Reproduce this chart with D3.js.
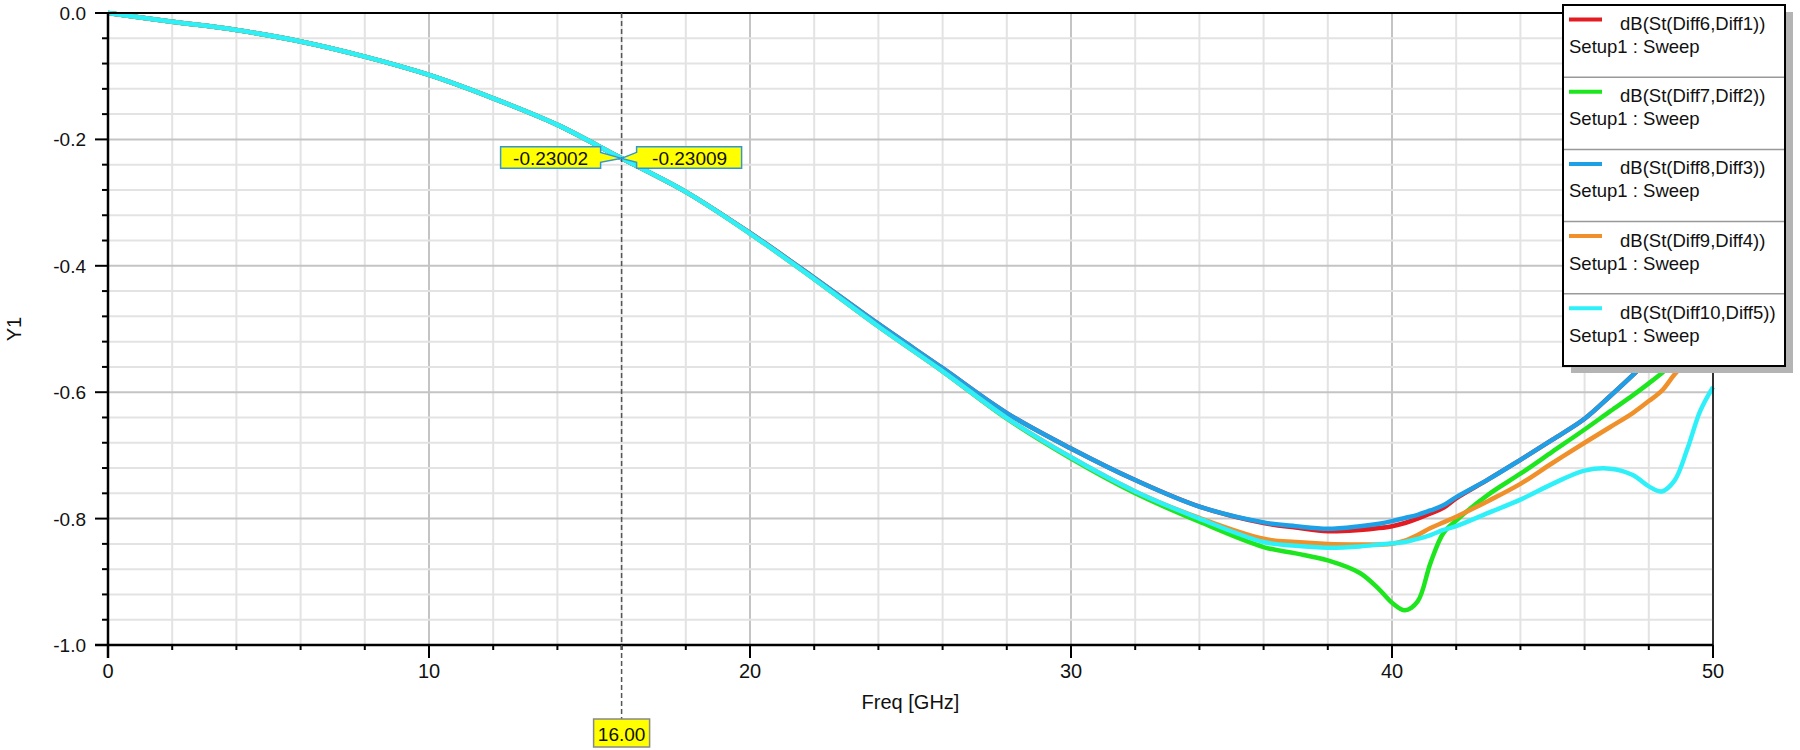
<!DOCTYPE html>
<html>
<head>
<meta charset="UTF-8">
<title>dB(St) vs Freq</title>
<script src="https://d3js.org/d3.v7.min.js"></script>
<style>
  body { margin: 0; background: #fff; }
  svg text { font-family: "Liberation Sans", Arial, sans-serif; fill: #111; }
</style>
</head>
<body>
<script>
// frequency points (GHz)
var freq = [0, 2, 4, 6, 8, 10, 12, 14, 16, 18, 20, 22, 24, 26, 28, 30, 32, 34, 36, 37, 38, 39,
            39.6, 40, 40.4, 40.8, 41.2, 41.6, 42, 43, 44, 45, 46, 46.8, 47.5, 48, 48.4, 48.8, 49.2, 49.6, 50];

// dB values per trace
var diff6 = [0, -0.0137, -0.027, -0.045, -0.069, -0.098, -0.135, -0.177, -0.2300, -0.283, -0.348,
             -0.419, -0.492, -0.562, -0.633, -0.689, -0.739, -0.781, -0.807, -0.814, -0.820, -0.818,
             -0.815, -0.812, -0.807, -0.800, -0.792, -0.783, -0.768, -0.738, -0.707, -0.675, -0.642,
             -0.606, -0.573, -0.548, -0.528, -0.508, -0.488, -0.468, -0.448];
var diff7 = [0, -0.0137, -0.027, -0.045, -0.069, -0.098, -0.135, -0.177, -0.2300, -0.283, -0.349,
             -0.421, -0.496, -0.567, -0.642, -0.705, -0.760, -0.805, -0.845, -0.855, -0.866, -0.886,
             -0.912, -0.933, -0.945, -0.931, -0.870, -0.823, -0.803, -0.762, -0.729, -0.694, -0.659,
             -0.630, -0.605, -0.586, -0.570, -0.552, -0.535, -0.517, -0.500];
var diff8 = [0, -0.0137, -0.027, -0.045, -0.069, -0.098, -0.135, -0.177, -0.2300, -0.283, -0.348,
             -0.419, -0.492, -0.562, -0.633, -0.689, -0.739, -0.781, -0.806, -0.812, -0.816, -0.812,
             -0.808, -0.804, -0.799, -0.794, -0.787, -0.779, -0.766, -0.738, -0.707, -0.675, -0.642,
             -0.606, -0.573, -0.548, -0.528, -0.508, -0.488, -0.468, -0.448];
var diff9 = [0, -0.0137, -0.027, -0.045, -0.069, -0.098, -0.135, -0.177, -0.2300, -0.283, -0.349,
             -0.421, -0.496, -0.567, -0.641, -0.703, -0.757, -0.799, -0.832, -0.837, -0.840, -0.841,
             -0.841, -0.840, -0.835, -0.826, -0.815, -0.806, -0.797, -0.772, -0.745, -0.712, -0.680,
             -0.655, -0.633, -0.614, -0.598, -0.572, -0.550, -0.530, -0.510];
var diff10 = [0, -0.0137, -0.027, -0.045, -0.069, -0.098, -0.135, -0.177, -0.2300, -0.283, -0.349,
              -0.421, -0.496, -0.567, -0.641, -0.703, -0.757, -0.800, -0.837, -0.843, -0.846, -0.844,
              -0.841, -0.839, -0.837, -0.832, -0.826, -0.818, -0.812, -0.791, -0.770, -0.745, -0.724,
              -0.721, -0.731, -0.749, -0.757, -0.740, -0.690, -0.630, -0.592];

var traceNames = ["dB(St(Diff6,Diff1))", "dB(St(Diff7,Diff2))", "dB(St(Diff8,Diff3))",
                  "dB(St(Diff9,Diff4))", "dB(St(Diff10,Diff5))"];
var traceColors = ["#e31b23", "#1ee61e", "#1ea0e6", "#f0902a", "#2ef0f8"];
var traceValues = [diff6, diff7, diff8, diff9, diff10];

var xTicks = [0, 10, 20, 30, 40, 50];
var yTicks = ["0.0", "-0.2", "-0.4", "-0.6", "-0.8", "-1.0"];

// marker at 16 GHz
var markerFreq = 16;
var markerLabels = ["-0.23002", "-0.23009"];
var markerValue = -0.2300;

var width = 1800, height = 750;
var plotL = 108, plotR = 1713, plotT = 13, plotB = 645;

var svg = d3.select("body").append("svg")
    .attr("width", width)
    .attr("height", height);

var x = d3.scaleLinear().domain([0, 50]).range([plotL, plotR]);
var y = d3.scaleLinear().domain([-1, 0]).range([plotB, plotT]);

// grid
var xMinor = d3.range(0, 50.01, 2);
var yMinor = d3.range(0, 26).map(function(i) { return -i * 0.04; });

svg.append("g").selectAll("line")
    .data(xMinor)
    .enter().append("line")
    .attr("x1", function(d) { return x(d); })
    .attr("x2", function(d) { return x(d); })
    .attr("y1", plotT).attr("y2", plotB)
    .attr("stroke", function(d) { return d % 10 === 0 ? "#c4c4c4" : "#e3e3e3"; })
    .attr("stroke-width", 2);

svg.append("g").selectAll("line")
    .data(yMinor)
    .enter().append("line")
    .attr("x1", plotL).attr("x2", plotR)
    .attr("y1", function(d) { return y(d); })
    .attr("y2", function(d) { return y(d); })
    .attr("stroke", function(d, i) { return i % 5 === 0 ? "#c4c4c4" : "#e3e3e3"; })
    .attr("stroke-width", 2);

// traces
var line = d3.line()
    .x(function(d) { return x(d[0]); })
    .y(function(d) { return y(d[1]); })
    .curve(d3.curveCatmullRom.alpha(0.5));

traceValues.forEach(function(vals, k) {
    svg.append("path")
        .datum(freq.map(function(f, i) { return [f, vals[i]]; }))
        .attr("fill", "none")
        .attr("stroke", traceColors[k])
        .attr("stroke-width", 4.5)
        .attr("stroke-linejoin", "round")
        .attr("d", line);
});

// frame
svg.append("line").attr("x1", plotL).attr("x2", plotR).attr("y1", plotT).attr("y2", plotT)
    .attr("stroke", "#000").attr("stroke-width", 2);
svg.append("line").attr("x1", plotR).attr("x2", plotR).attr("y1", plotT).attr("y2", plotB + 13)
    .attr("stroke", "#000").attr("stroke-width", 1.5);
svg.append("line").attr("x1", plotL).attr("x2", plotL).attr("y1", plotT).attr("y2", plotB + 13)
    .attr("stroke", "#000").attr("stroke-width", 2.5);
svg.append("line").attr("x1", plotL - 13).attr("x2", plotR).attr("y1", plotB).attr("y2", plotB)
    .attr("stroke", "#000").attr("stroke-width", 2.5);

// y ticks
svg.append("g").selectAll("line")
    .data(yMinor)
    .enter().append("line")
    .attr("x1", function(d, i) { return i % 5 === 0 ? plotL - 13 : plotL - 6; })
    .attr("x2", plotL)
    .attr("y1", function(d) { return y(d); })
    .attr("y2", function(d) { return y(d); })
    .attr("stroke", "#000").attr("stroke-width", 2);

svg.append("g").selectAll("text")
    .data(yTicks)
    .enter().append("text")
    .attr("x", 86)
    .attr("y", function(d) { return y(+d) + 7; })
    .attr("text-anchor", "end")
    .style("font-size", "19px")
    .text(function(d) { return d; });

// x ticks
svg.append("g").selectAll("line")
    .data(xMinor)
    .enter().append("line")
    .attr("x1", function(d) { return x(d); })
    .attr("x2", function(d) { return x(d); })
    .attr("y1", plotB)
    .attr("y2", function(d) { return d % 10 === 0 ? plotB + 13 : plotB + 5; })
    .attr("stroke", "#000").attr("stroke-width", 2);

svg.append("g").selectAll("text")
    .data(xTicks)
    .enter().append("text")
    .attr("x", function(d) { return x(d); })
    .attr("y", 678)
    .attr("text-anchor", "middle")
    .style("font-size", "20px")
    .text(function(d) { return d; });

// axis titles
svg.append("text")
    .attr("x", (plotL + plotR) / 2)
    .attr("y", 709)
    .attr("text-anchor", "middle")
    .style("font-size", "20px")
    .text("Freq [GHz]");

svg.append("text")
    .attr("transform", "translate(21," + ((plotT + plotB) / 2) + ") rotate(-90)")
    .attr("text-anchor", "middle")
    .style("font-size", "20px")
    .text("Y1");

// marker line
var mx = x(markerFreq), my = y(markerValue);
svg.append("line")
    .attr("x1", mx).attr("x2", mx)
    .attr("y1", plotT).attr("y2", 719)
    .attr("stroke", "#555")
    .attr("stroke-width", 1.5)
    .attr("stroke-dasharray", "5,3");

svg.append("rect")
    .attr("x", mx - 28).attr("y", 719)
    .attr("width", 56).attr("height", 28)
    .attr("fill", "#ffff00")
    .attr("stroke", "#888")
    .attr("stroke-width", 1.5);
svg.append("text")
    .attr("x", mx).attr("y", 741)
    .attr("text-anchor", "middle")
    .style("font-size", "19px")
    .text(d3.format(".2f")(markerFreq));

// callouts
var boxTop = my - 11.5, boxBot = my + 10;
var leftPath = "M" + (mx - 121) + "," + boxTop + "H" + (mx - 21) + "V" + (my - 6) +
    "L" + mx + "," + my + "L" + (mx - 21) + "," + (my + 4) + "V" + boxBot + "H" + (mx - 121) + "Z";
var rightPath = "M" + (mx + 120) + "," + boxTop + "H" + (mx + 15) + "V" + (my - 6) +
    "L" + mx + "," + my + "L" + (mx + 15) + "," + (my + 4) + "V" + boxBot + "H" + (mx + 120) + "Z";

svg.append("path").attr("d", leftPath)
    .attr("fill", "#ffff00").attr("stroke", "#2f96d8").attr("stroke-width", 1.5);
svg.append("path").attr("d", rightPath)
    .attr("fill", "#ffff00").attr("stroke", "#2f96d8").attr("stroke-width", 1.5);

svg.append("text")
    .attr("x", mx - 71).attr("y", my + 6.5)
    .attr("text-anchor", "middle")
    .style("font-size", "19px")
    .text(markerLabels[0]);
svg.append("text")
    .attr("x", mx + 68).attr("y", my + 6.5)
    .attr("text-anchor", "middle")
    .style("font-size", "19px")
    .text(markerLabels[1]);

// legend
var lgX = 1563, lgY = 5, lgW = 222, lgH = 361, rowH = lgH / traceNames.length;

svg.append("rect")
    .attr("x", lgX + 8).attr("y", lgY + 7)
    .attr("width", lgW).attr("height", lgH)
    .attr("fill", "#b4b4b4");
svg.append("rect")
    .attr("x", lgX).attr("y", lgY)
    .attr("width", lgW).attr("height", lgH)
    .attr("fill", "#fff")
    .attr("stroke", "#000")
    .attr("stroke-width", 2);

var rows = svg.append("g").selectAll("g")
    .data(traceNames)
    .enter().append("g")
    .attr("transform", function(d, i) { return "translate(" + lgX + "," + (lgY + i * rowH) + ")"; });

rows.filter(function(d, i) { return i > 0; })
    .append("line")
    .attr("x1", 1).attr("x2", lgW - 1)
    .attr("y1", 0).attr("y2", 0)
    .attr("stroke", "#999").attr("stroke-width", 1.5);

rows.append("line")
    .attr("x1", 6).attr("x2", 39)
    .attr("y1", 14.5).attr("y2", 14.5)
    .attr("stroke", function(d, i) { return traceColors[i]; })
    .attr("stroke-width", 4);

rows.append("text")
    .attr("x", 57).attr("y", 25)
    .style("font-size", "18.5px")
    .text(function(d) { return d; });

rows.append("text")
    .attr("x", 6).attr("y", 48)
    .style("font-size", "18.5px")
    .text("Setup1 : Sweep");
</script>
</body>
</html>
